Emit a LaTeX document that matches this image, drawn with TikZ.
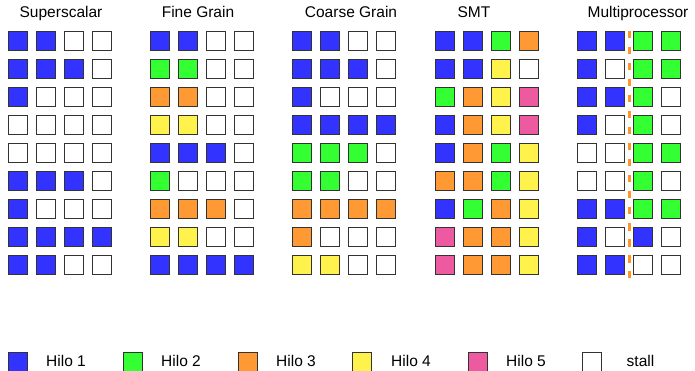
\documentclass[tikz,border=0pt]{standalone}
\usepackage{fontspec}
\setmainfont{Liberation Sans}
\definecolor{cB}{HTML}{3333FF}
\definecolor{cG}{HTML}{33FF33}
\definecolor{cO}{HTML}{FF9933}
\definecolor{cY}{HTML}{FFF24C}
\definecolor{cP}{HTML}{EE5AA0}
\definecolor{cW}{HTML}{FFFFFF}
\definecolor{edge}{HTML}{333333}
\definecolor{dashor}{HTML}{FF9428}
\newcommand\drawslotgrid[3]{%
  \foreach \row [count=\ri from 0] in {#3} {
    \foreach \cc [count=\ci from 0] in \row {
      \node[cell, fill=c\cc] (#1-\ri-\ci) at ({#2+10+28*\ci}, {41+28*\ri}) {};
    }
  }%
}
\begin{document}
\begin{tikzpicture}[x=1pt,y=-1pt,
  cell/.style={draw=edge, line width=1.3pt, minimum size=19pt, inner sep=0pt, outer sep=0pt},
  title/.style={font=\fontsize{15.5}{18}\selectfont, anchor=base, inner sep=0pt},
  legtext/.style={font=\fontsize{15.5}{18}\selectfont, anchor=base west, inner sep=0pt},
  mpdash/.style={draw=dashor, line width=3pt, dash pattern=on 7.5pt off 8.5pt}]
\useasboundingbox (0,0) rectangle (695,371);
\fill[white] (0,0) rectangle (695,371);

% titles
\node[title] (tss) at (61,18) {Superscalar};
\node[title] (tfg) at (198,18) {Fine Grain};
\node[title] (tcg) at (351,18) {Coarse Grain};
\node[title] (tsmt) at (474,18) {SMT};
\node[title] (tmp) at (638,18) {Multiprocessor};

% grids
\drawslotgrid{ss}{8}{{B,B,W,W},{B,B,B,W},{B,W,W,W},{W,W,W,W},{W,W,W,W},{B,B,B,W},{B,W,W,W},{B,B,B,B},{B,B,W,W}}
\drawslotgrid{fg}{150}{{B,B,W,W},{G,G,W,W},{O,O,W,W},{Y,Y,W,W},{B,B,B,W},{G,W,W,W},{O,O,O,W},{Y,Y,W,W},{B,B,B,B}}
\drawslotgrid{cg}{292}{{B,B,W,W},{B,B,B,W},{B,W,W,W},{B,B,B,B},{G,G,G,W},{G,G,W,W},{O,O,O,O},{O,W,W,W},{Y,Y,W,W}}
\drawslotgrid{smt}{435}{{B,B,G,O},{B,B,Y,W},{G,O,Y,P},{B,O,Y,P},{B,O,G,Y},{O,O,G,Y},{B,G,O,Y},{P,O,O,Y},{P,O,O,Y}}
\drawslotgrid{mp}{577}{{B,B,G,G},{B,W,G,G},{B,B,G,W},{B,W,G,W},{W,W,G,G},{W,W,G,W},{B,B,G,G},{B,W,B,W},{B,B,W,W}}

% multiprocessor divider
\coordinate (mptop) at (629.7,31);
\coordinate (mpbot) at (629.7,278);
\draw[mpdash] (mptop) -- (mpbot);

% legend
\node[cell, fill=cB] (l1) at (18,362) {};
\node[legtext] (lt1) at (46,366.7) {Hilo 1};
\node[cell, fill=cG] (l2) at (133,362) {};
\node[legtext] (lt2) at (161,366.7) {Hilo 2};
\node[cell, fill=cO] (l3) at (248,362) {};
\node[legtext] (lt3) at (276,366.7) {Hilo 3};
\node[cell, fill=cY] (l4) at (362,362) {};
\node[legtext] (lt4) at (391,366.7) {Hilo 4};
\node[cell, fill=cP] (l5) at (478,362) {};
\node[legtext] (lt5) at (506,366.7) {Hilo 5};
\node[cell, fill=cW] (l6) at (592,362) {};
\node[legtext] (lt6) at (626.5,366.7) {stall};
\end{tikzpicture}
\end{document}
